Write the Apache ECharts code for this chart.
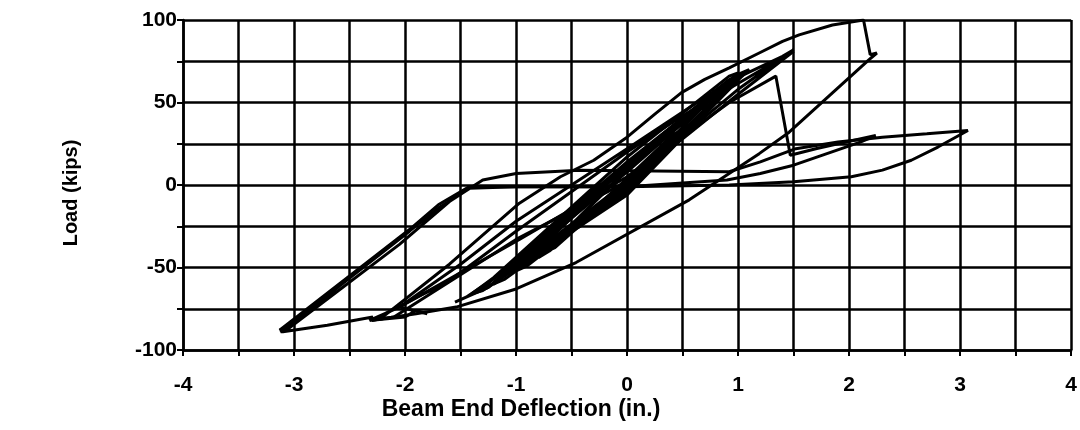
<!DOCTYPE html>
<html><head><meta charset="utf-8">
<script src="https://cdn.jsdelivr.net/npm/echarts@6/dist/echarts.min.js"></script>
<style>html,body{margin:0;padding:0;background:#fff}#c{width:1080px;height:430px}</style>
</head><body><div id="c"></div><script>
// Tick labels
const xTickLabels = [-4, -3, -2, -1, 0, 1, 2, 3, 4];
const yTickLabels = [-100, -50, 0, 50, 100];

// Load (kips) vs beam end deflection (in.) — traced segments of the hysteresis record
const elasticCycles = [
  [0,0],[0.25,16],[0.2,15],[-0.25,-12],[-0.2,-10],[0.5,32],[0.42,30],[-0.5,-27],[-0.42,-24],
  [0.5,33],[0.42,31],[-0.5,-28],[-0.42,-25],
  [0,3],[0.75,48],[0.65,46],[0,10],[-0.75,-41],[-0.65,-38],[0,1],[0.75,49],[0.66,47],[0,9],[-0.8,-44],[-0.7,-40],
  [0,-1],[1.0,64],[0.9,62],[0,12],[-1.0,-52],[-0.9,-49],[0,-2],[1.05,68],[0.95,65],[0,12],[-1.2,-60],[-1.1,-57],
  [0,-3],[1.0,67],[0.9,63],[0,13],[-1.25,-62]
];
const oneInchCycles = [
  [-1.25,-62],[0,-4],[1.0,64],[0.9,62],[0,14],[-1.3,-62],[-1.2,-60],[0,-1],[1.1,70],[1.0,67],[0,11],
  [-1.35,-65],[-1.25,-62],[0,2],[1.0,68],[0.92,66],[0,17],[-1.2,-56],[-1.4,-66],[-1.3,-64],[0,-6],
  [0.95,60],[0.85,58],[0,8],[-1.25,-62]
];
const cycle15 = [
  [-1.25,-62],[-1.55,-71],[-1.45,-68],[-0.5,-25],[0.5,28],[1.0,55],[1.5,81],[1.42,78],[0.5,42],[0,20],
  [-1.0,-28],[-1.6,-58],[-2.3,-82],[-2.1,-80],[-1.0,-33],[0,2],[1.0,58],[1.5,82],[1.4,78],[0.9,62],
  [0,22],[-1.0,-22],[-1.5,-48],[-2.05,-74],[-2.32,-82]
];
const peakCycle = [
  [-2.32,-82],[-2.22,-81],[-1.6,-48],[-0.97,-11],[-0.6,5],[-0.3,15],[0,29],[0.25,43],[0.49,56],[0.7,64],
  [0.92,71],[1.19,80],[1.4,87],[1.55,91],[1.85,97],[2.13,100],[2.19,79],[2.25,80],[2.18,76],[1.46,32],
  [1.19,19],[0.56,-9],[-0.46,-47],[-1.0,-63],[-1.54,-74],[-1.9,-78],[-2.3,-82]
];
const fractureCycle = [
  [-2.3,-82],[-2.0,-80],[-1.9,-76],[-1.8,-78],[-2.05,-74],[-0.97,-33],[0,5],[0.92,50],[1.34,66],[1.47,18],
  [1.7,22],[1.9,25],[2.24,30],[2.1,26],[1.8,19],[1.5,12],[1.2,7],[0.9,3],[0,-1],[-1.0,-1],[-1.42,-1],
  [-1.7,-12],[-1.96,-27],[-3.13,-88]
];
const largeCycle = [
  [-3.13,-88],[-3.05,-87],[-2.05,-36],[-1.6,-10],[-1.3,3],[-1.0,7],[-0.43,9],[0.92,8],[1.2,14],[1.52,22],
  [1.9,26],[2.3,29],[2.7,31],[3.07,33],[2.8,23],[2.56,15],[2.3,9],[2.02,5],[1.5,2],[0.92,0],[0,-1],
  [-1.0,-1],[-1.42,-2],[-1.7,-14],[-1.96,-28],[-3.12,-89],[-3.1,-89],[-2.7,-85],[-2.29,-80],[-2.32,-82]
];
const segments = [elasticCycles, oneInchCycles, cycle15, peakCycle, fractureCycle, largeCycle];

const FONT = '"Liberation Sans", Arial, sans-serif';
const chart = echarts.init(document.getElementById('c'), null, {renderer: 'canvas'});
chart.setOption({
  animation: false,
  backgroundColor: '#fff',
  grid: {left: 183, right: 7, top: 20, bottom: 80},
  xAxis: {
    type: 'value', min: -4, max: 4, interval: 0.5,
    axisLine: {show: true, onZero: false, lineStyle: {color: '#000', width: 2.5}},
    axisTick: {show: true, length: 6, lineStyle: {color: '#000', width: 2}},
    splitLine: {show: true, lineStyle: {color: '#000', width: 2.5}},
    axisLabel: {
      margin: 25, color: '#000', fontFamily: FONT, fontWeight: 'bold', fontSize: 21,
      formatter: v => xTickLabels.includes(v) ? String(v) : ''
    }
  },
  yAxis: {
    type: 'value', min: -100, max: 100, interval: 25,
    axisLine: {show: true, onZero: false, lineStyle: {color: '#000', width: 2.5}},
    axisTick: {show: true, length: 6, lineStyle: {color: '#000', width: 2}},
    splitLine: {show: true, lineStyle: {color: '#000', width: 2.5}},
    axisLabel: {
      margin: 6, color: '#000', fontFamily: FONT, fontWeight: 'bold', fontSize: 21,
      formatter: v => yTickLabels.includes(v) ? String(v) : ''
    }
  },
  graphic: [
    {type: 'text', x: 521, y: 410, style: {text: 'Beam End Deflection (in.)', font: 'bold 23px ' + FONT, fill: '#000', align: 'center', verticalAlign: 'middle'}},
    {type: 'text', x: 71, y: 193, rotation: Math.PI / 2, style: {text: 'Load (kips)', font: 'bold 20px ' + FONT, fill: '#000', align: 'center', verticalAlign: 'middle'}}
  ],
  series: segments.map(seg => ({
    type: 'line', data: seg, showSymbol: false, smooth: false,
    lineStyle: {color: '#000', width: 3}, z: 3
  }))
});
</script></body></html>
